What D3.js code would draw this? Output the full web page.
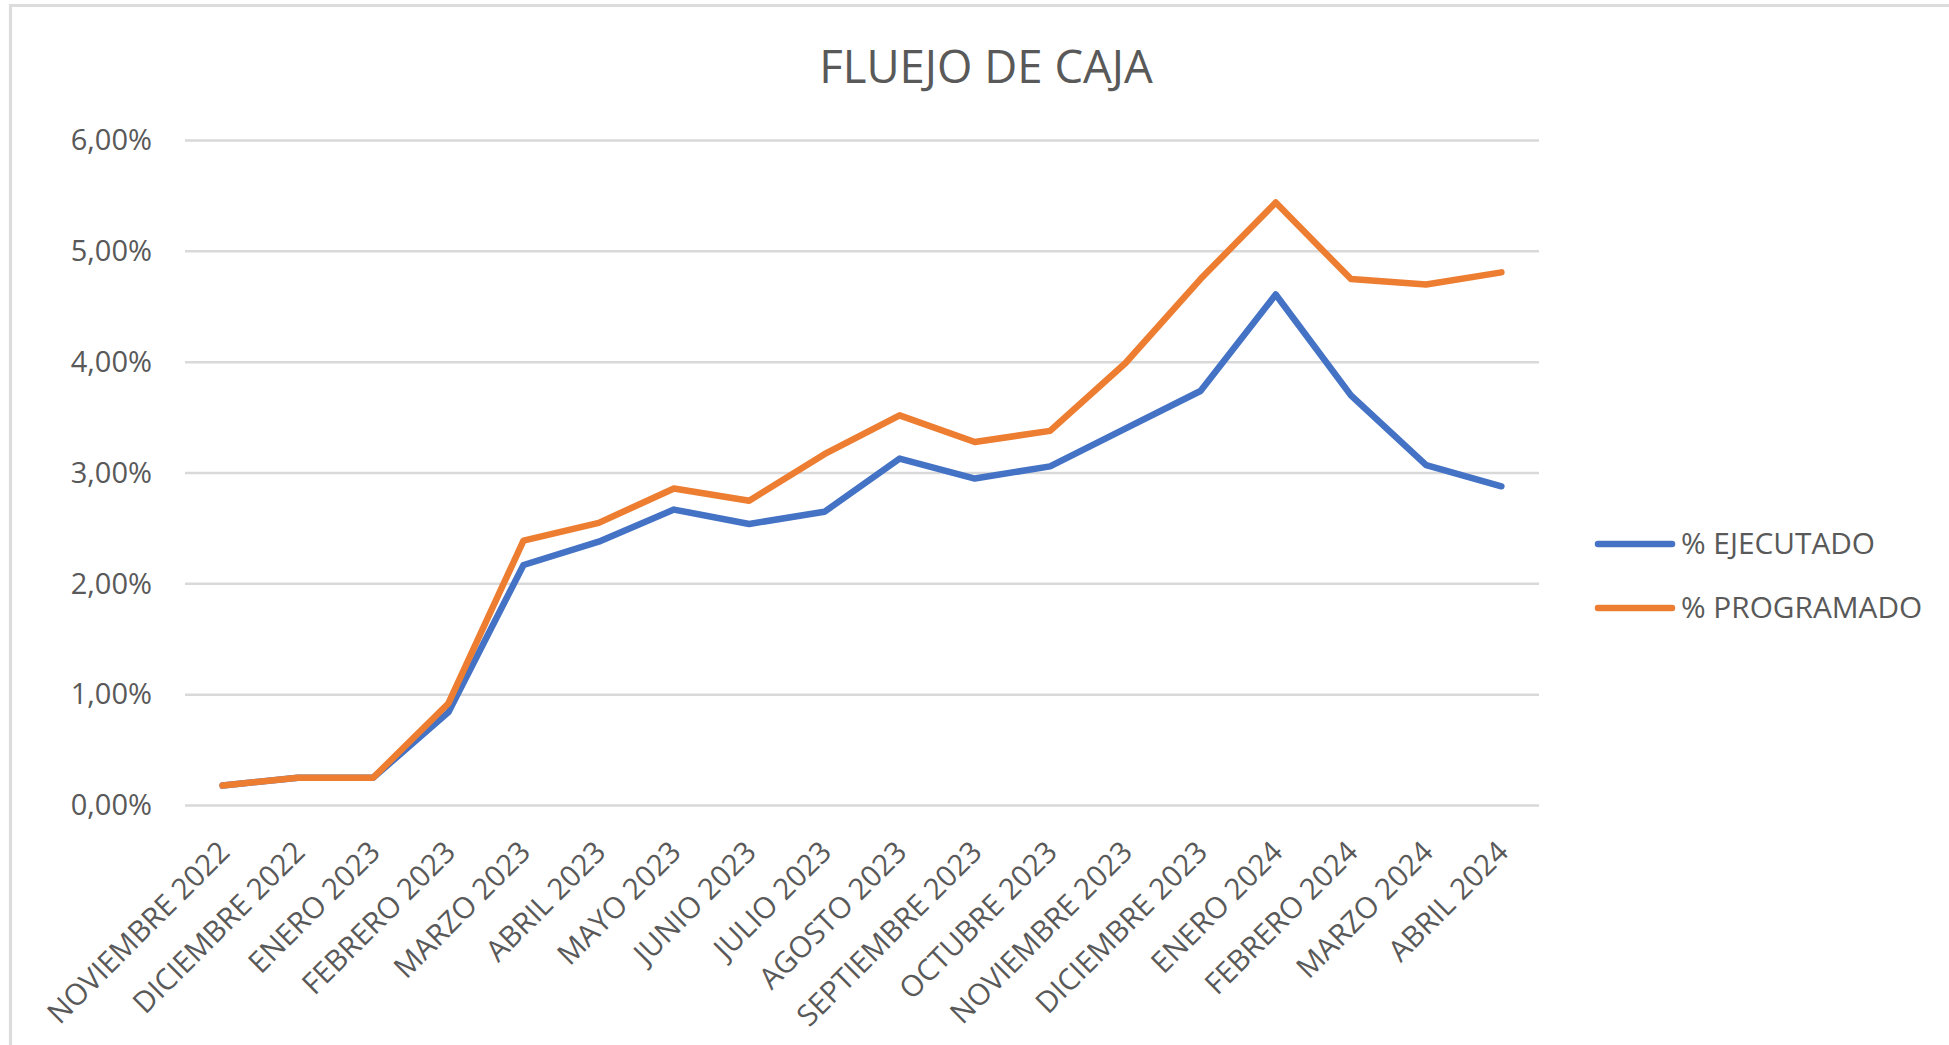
<!DOCTYPE html>
<html>
<head>
<meta charset="utf-8">
<script src="https://cdn.jsdelivr.net/npm/d3@7"></script>
<style>
  html, body { margin: 0; padding: 0; background: #ffffff; }
  svg { display: block; }
  text { font-family: "Open Sans", "Noto Sans", sans-serif; fill: #595959; }
</style>
</head>
<body>
<svg id="chart" width="1949" height="1045"></svg>
<script>
// ---- Data ----
const title = "FLUEJO DE CAJA";
const categories = [
  "NOVIEMBRE 2022", "DICIEMBRE 2022", "ENERO 2023", "FEBRERO 2023", "MARZO 2023",
  "ABRIL 2023", "MAYO 2023", "JUNIO 2023", "JULIO 2023", "AGOSTO 2023",
  "SEPTIEMBRE 2023", "OCTUBRE 2023", "NOVIEMBRE 2023", "DICIEMBRE 2023",
  "ENERO 2024", "FEBRERO 2024", "MARZO 2024", "ABRIL 2024"
];
const ejecutado = [0.18, 0.25, 0.25, 0.84, 2.17, 2.38, 2.67, 2.54, 2.65, 3.13,
                   2.95, 3.06, 3.40, 3.74, 4.61, 3.70, 3.07, 2.88];
const programado = [0.18, 0.25, 0.25, 0.92, 2.39, 2.55, 2.86, 2.75, 3.17, 3.52,
                    3.28, 3.38, 3.99, 4.75, 5.44, 4.75, 4.70, 4.81];
const yTicks = [0, 1, 2, 3, 4, 5, 6];
const seriesNames = ["% EJECUTADO", "% PROGRAMADO"];
const seriesColors = ["#4472C4", "#ED7D31"];

// ---- Layout ----
const svg = d3.select("#chart");
const plot = { left: 185, right: 1539, top: 140.5, bottom: 805.5 };

// chart frame (light border)
svg.append("path")
  .attr("d", "M10.5,1045 L10.5,5.5 L1949,5.5")
  .attr("fill", "none")
  .attr("stroke", "#dcdcdc")
  .attr("stroke-width", 3.2);

const x = d3.scalePoint().domain(categories).range([plot.left, plot.right]).padding(0.5);
const y = d3.scaleLinear().domain([0, 6]).range([plot.bottom, plot.top]);

// gridlines
svg.append("g").selectAll("line").data(yTicks).join("line")
  .attr("x1", plot.left).attr("x2", plot.right)
  .attr("y1", d => y(d)).attr("y2", d => y(d))
  .attr("stroke", "#d9d9d9").attr("stroke-width", 2.5);

// y axis labels
const fmt = d => d.toFixed(2).replace(".", ",") + "%";
const yAxis = d3.axisLeft(y).tickValues(yTicks).tickFormat(fmt).tickSize(0).tickPadding(0);
const gy = svg.append("g").attr("transform", `translate(152,0)`).call(yAxis);
gy.select(".domain").remove();
gy.selectAll("text")
  .attr("font-size", 29)
  .attr("font-family", "'Open Sans', sans-serif")
  .attr("fill", "#595959");

// x axis labels
const xAxis = d3.axisBottom(x).tickSize(0).tickPadding(0);
const gx = svg.append("g").attr("transform", `translate(0,${plot.bottom})`).call(xAxis);
gx.select(".domain").remove();
gx.selectAll(".tick text")
  .attr("font-size", 29.5)
  .attr("font-family", "'Open Sans', sans-serif")
  .attr("fill", "#595959")
  .attr("text-anchor", "end")
  .attr("y", 0)
  .attr("dy", "0.35em")
  .attr("transform", "translate(1,41) rotate(-45)");

// lines
const line = d3.line().x((d, i) => x(categories[i])).y(d => y(d));
[ejecutado, programado].forEach((s, k) => {
  svg.append("path")
    .datum(s)
    .attr("d", line)
    .attr("fill", "none")
    .attr("stroke", seriesColors[k])
    .attr("stroke-width", 6.5)
    .attr("stroke-linejoin", "round")
    .attr("stroke-linecap", "round");
});

// title
svg.append("text")
  .attr("x", 986).attr("y", 83)
  .attr("text-anchor", "middle")
  .attr("font-size", 45.5)
  .attr("fill", "#595959")
  .text(title);

// legend
const legendY = [544, 608];
const lg = svg.append("g");
seriesNames.forEach((name, k) => {
  lg.append("line")
    .attr("x1", 1598).attr("x2", 1672)
    .attr("y1", legendY[k]).attr("y2", legendY[k])
    .attr("stroke", seriesColors[k])
    .attr("stroke-width", 6.5)
    .attr("stroke-linecap", "round");
  lg.append("text")
    .attr("x", 1681).attr("y", legendY[k])
    .attr("dy", "0.35em")
    .attr("font-size", 29.8)
    .attr("fill", "#595959")
    .text(name);
});
</script>
</body>
</html>
